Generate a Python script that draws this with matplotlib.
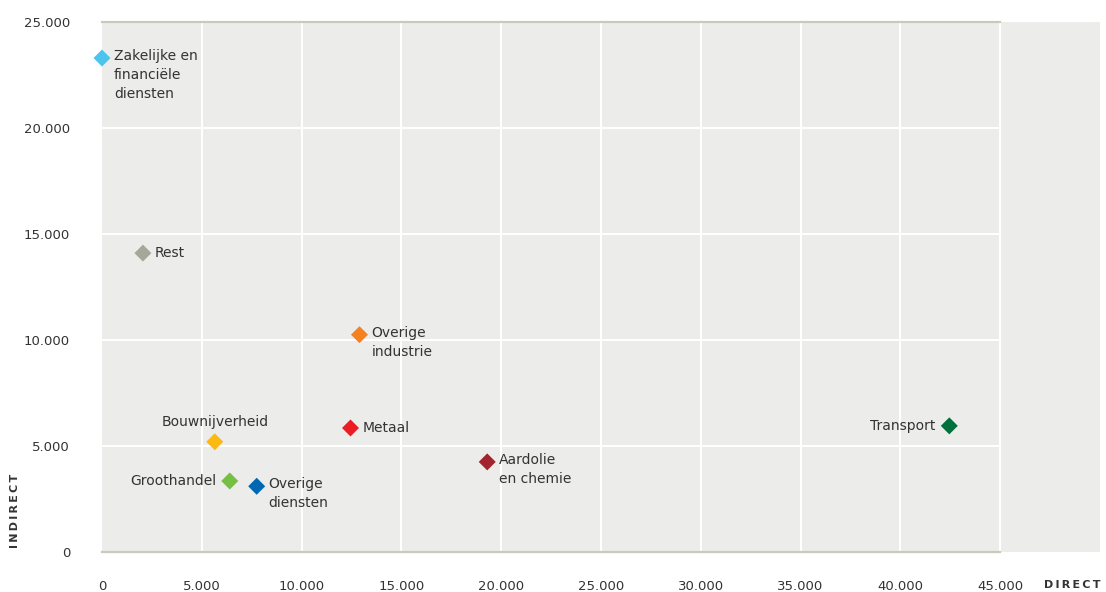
import matplotlib.pyplot as plt
from matplotlib.ticker import FuncFormatter

plt.rcParams['font.family'] = ['DejaVu Sans']

# data
sectors = ['Zakelijke en\nfinanciële\ndiensten', 'Rest', 'Overige\nindustrie', 'Bouwnijverheid',
           'Metaal', 'Groothandel', 'Overige\ndiensten', 'Aardolie\nen chemie', 'Transport']
direct = [0, 2050, 12900, 5650, 12450, 6400, 7750, 19300, 42450]
indirect = [23300, 14100, 10250, 5200, 5850, 3350, 3100, 4250, 5950]
colors = ['#4cc4ee', '#a7a799', '#f5821f', '#fdb913', '#ec1c24', '#74bf44', '#0068b3', '#a1252d', '#00703c']
# label placement: offset in pixels, ha, va
label_pos = [(12, 9, 'left', 'top'), (12, 0, 'left', 'center'), (12, 9, 'left', 'top'),
             (0, 20, 'center', 'center'), (12, 0, 'left', 'center'), (-13, 0, 'right', 'center'),
             (12, 9, 'left', 'top'), (12, 9, 'left', 'top'), (-14, 0, 'right', 'center')]

x_ticks = list(range(0, 45001, 5000))
y_ticks = list(range(0, 25001, 5000))

fig = plt.figure(figsize=(11.06, 5.92), dpi=100)
ax = fig.add_axes([102/1106, 40/592, 998/1106, 530/592])
ax.set_facecolor('#ececea')
ax.set_xlim(0, 50000)
ax.set_ylim(0, 25000)

# grid only up to 45.000
for xv in x_ticks[1:]:
    ax.plot([xv, xv], [0, 25000], color='white', lw=1.5, zorder=1)
for yv in y_ticks[1:-1]:
    ax.plot([0, 45000], [yv, yv], color='white', lw=1.5, zorder=1)
ax.plot([0, 45000], [25000, 25000], color='#c9c9bd', lw=1.6, zorder=2, clip_on=False)
ax.plot([0, 45000], [0, 0], color='#c9c9bd', lw=1.6, zorder=2, clip_on=False)

for s in ax.spines.values():
    s.set_visible(False)

ax.scatter(direct, indirect, c=colors, marker='D', s=75, zorder=5, clip_on=False, linewidths=0)

for name, xv, yv, (dx, dy, ha, va) in zip(sectors, direct, indirect, label_pos):
    ax.annotate(name, (xv, yv), xytext=(dx, dy), textcoords='offset pixels',
                ha=ha, va=va, fontsize=10, color='#333333', linespacing=1.45, zorder=6)

fmt = FuncFormatter(lambda v, p: f'{int(v):,}'.replace(',', '.'))
ax.set_xticks(x_ticks)
ax.set_yticks(y_ticks)
ax.xaxis.set_major_formatter(fmt)
ax.yaxis.set_major_formatter(fmt)
ax.tick_params(length=0, labelsize=9.5, labelcolor='#333333')
ax.tick_params(axis='x', pad=20)
ax.tick_params(axis='y', pad=23)

ts = '\u2009'
fig.text(15/1106, 1 - 548/592, ts.join('INDIRECT'), rotation=90, ha='center', va='bottom',
         fontsize=8, fontweight='bold', color='#333333')
fig.text(1100/1106, 1 - 585/592, ts.join('DIRECT'), ha='right', va='center',
         fontsize=8, fontweight='bold', color='#333333')

fig.savefig('out.png', dpi=100)
